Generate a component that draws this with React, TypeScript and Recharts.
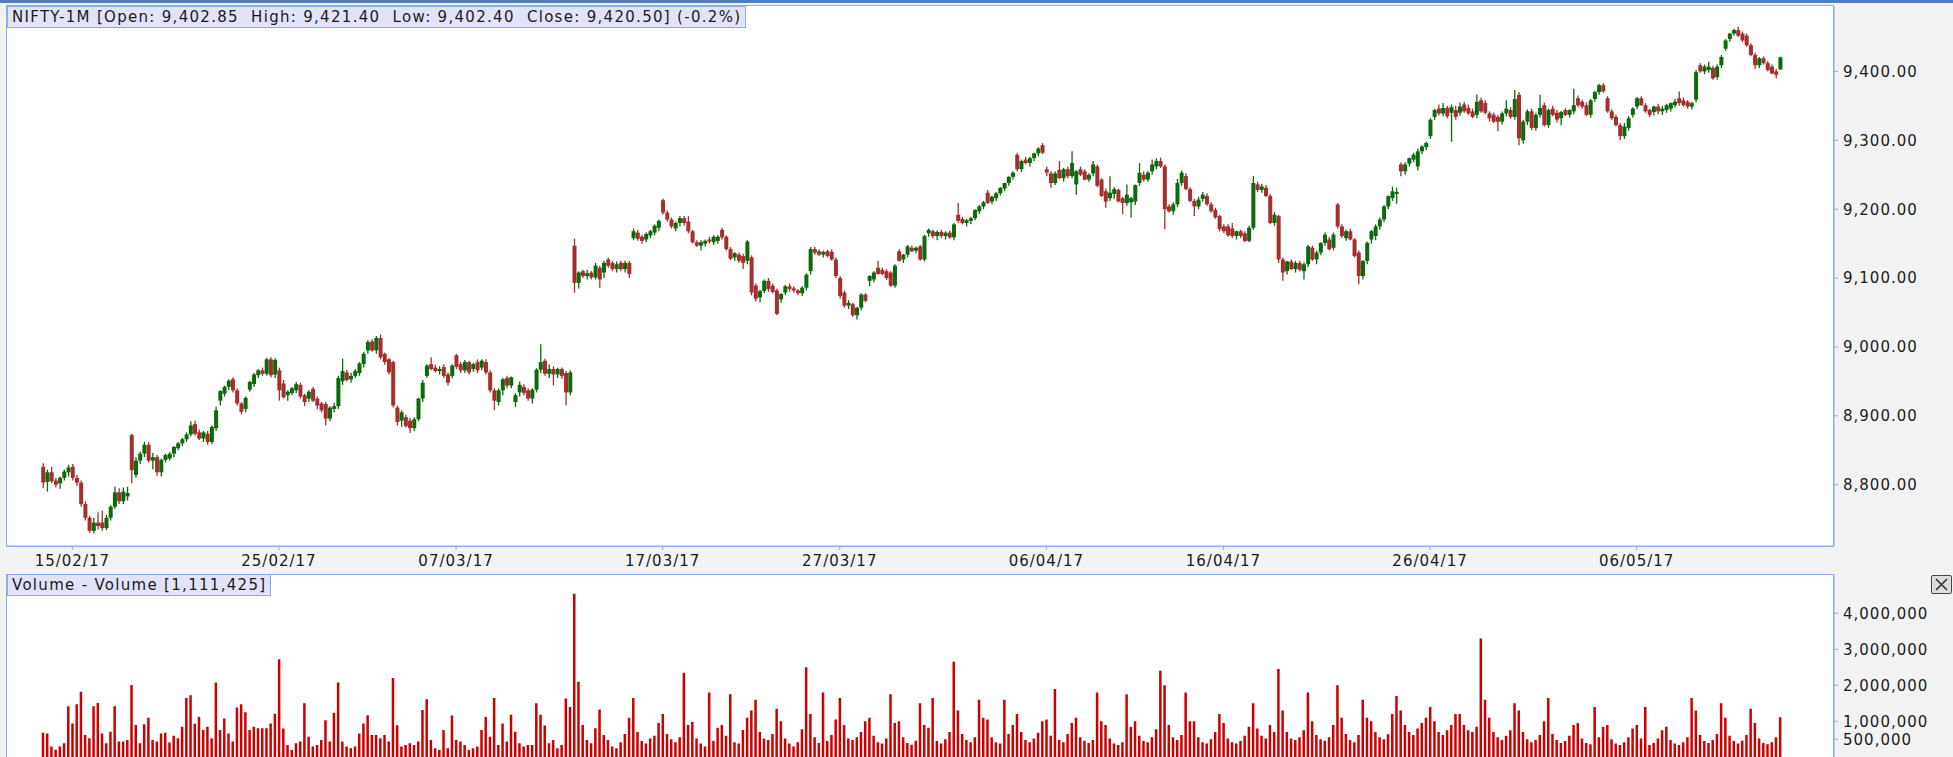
import React from 'react';
import { ComposedChart, Bar, XAxis, YAxis } from 'recharts';

// hourly NIFTY near-month futures, [open, high, low, close], 7 bars per session
const febCandles = [
  [8826, 8831, 8795, 8803], [8804, 8822, 8790, 8818], [8818, 8826, 8802, 8805], [8806, 8810, 8796, 8800], [8802, 8812, 8794, 8810], [8810, 8822, 8806, 8819], [8818, 8829, 8812, 8825],
  [8826, 8830, 8806, 8810], [8810, 8814, 8798, 8803], [8803, 8806, 8768, 8772], [8772, 8776, 8748, 8752], [8752, 8755, 8730, 8733], [8733, 8752, 8729, 8745], [8745, 8760, 8735, 8740],
  [8745, 8762, 8733, 8737], [8737, 8756, 8734, 8752], [8752, 8770, 8748, 8768], [8768, 8797, 8765, 8789], [8789, 8795, 8772, 8776], [8776, 8796, 8772, 8790], [8783, 8797, 8777, 8788],
  [8872, 8874, 8802, 8821], [8814, 8840, 8810, 8835], [8835, 8848, 8830, 8845], [8845, 8862, 8840, 8858], [8858, 8862, 8832, 8835], [8835, 8846, 8822, 8840], [8840, 8843, 8813, 8818],
  [8818, 8838, 8812, 8836], [8836, 8845, 8832, 8843], [8838, 8848, 8835, 8845], [8845, 8856, 8840, 8855], [8853, 8862, 8850, 8860], [8860, 8868, 8856, 8866], [8866, 8876, 8862, 8873],
  [8873, 8892, 8870, 8886], [8888, 8893, 8871, 8874], [8876, 8880, 8865, 8867], [8867, 8878, 8862, 8876], [8874, 8878, 8858, 8862], [8862, 8886, 8859, 8884], [8882, 8913, 8878, 8908],
  [8922, 8937, 8915, 8936], [8932, 8944, 8928, 8942], [8942, 8953, 8938, 8951], [8953, 8956, 8934, 8937], [8937, 8940, 8915, 8918], [8918, 8920, 8902, 8906], [8910, 8928, 8905, 8926],
  [8938, 8951, 8935, 8949], [8946, 8962, 8942, 8960], [8959, 8968, 8955, 8966], [8966, 8970, 8958, 8961], [8961, 8984, 8958, 8982], [8982, 8985, 8956, 8959], [8960, 8984, 8955, 8981],
  [8966, 8970, 8922, 8937], [8947, 8952, 8925, 8927], [8930, 8937, 8922, 8935], [8933, 8942, 8930, 8940], [8937, 8949, 8933, 8946], [8945, 8948, 8925, 8928], [8930, 8932, 8914, 8920],
  [8925, 8937, 8920, 8935], [8939, 8942, 8920, 8922], [8925, 8928, 8910, 8915], [8918, 8920, 8905, 8908], [8917, 8920, 8886, 8896], [8896, 8914, 8892, 8912], [8910, 8919, 8905, 8914],
];

const marCandles = [
  [8914, 8958, 8910, 8955], [8950, 8983, 8945, 8965], [8963, 8967, 8950, 8952], [8953, 8962, 8948, 8958], [8958, 8968, 8955, 8965], [8962, 8978, 8958, 8976], [8975, 8993, 8970, 8990],
  [8995, 9010, 8990, 9007], [9008, 9011, 8993, 8995], [8995, 9016, 8990, 9013], [9013, 9018, 8982, 8985], [8990, 8992, 8974, 8978], [8982, 8984, 8960, 8963], [8978, 8980, 8912, 8915],
  [8912, 8915, 8886, 8891], [8893, 8908, 8884, 8905], [8898, 8902, 8883, 8885], [8893, 8897, 8875, 8882], [8882, 8898, 8878, 8895], [8895, 8926, 8892, 8925], [8925, 8952, 8920, 8948],
  [8958, 8975, 8955, 8973], [8975, 8985, 8966, 8968], [8970, 8974, 8963, 8965], [8965, 8972, 8960, 8968], [8971, 8975, 8955, 8958], [8960, 8963, 8944, 8948], [8958, 8975, 8955, 8973],
  [8988, 8990, 8968, 8971], [8975, 8978, 8962, 8966], [8966, 8981, 8962, 8978], [8978, 8980, 8960, 8963], [8968, 8977, 8964, 8975], [8978, 8982, 8962, 8966], [8970, 8982, 8966, 8980],
  [8978, 8982, 8960, 8963], [8963, 8966, 8934, 8937], [8937, 8940, 8908, 8922], [8920, 8940, 8915, 8937], [8937, 8955, 8930, 8953], [8955, 8958, 8940, 8944], [8944, 8957, 8940, 8956],
  [8920, 8933, 8913, 8930], [8934, 8950, 8928, 8945], [8942, 8946, 8930, 8933], [8937, 8940, 8922, 8925], [8925, 8940, 8918, 8938], [8938, 8969, 8934, 8967], [8967, 9004, 8962, 8978],
  [8980, 8983, 8958, 8961], [8961, 8975, 8955, 8968], [8968, 8972, 8944, 8960], [8960, 8970, 8955, 8968], [8968, 8970, 8954, 8958], [8962, 8965, 8915, 8934], [8934, 8966, 8930, 8963],
  [9147, 9157, 9079, 9093], [9093, 9110, 9085, 9108], [9110, 9112, 9100, 9103], [9103, 9112, 9098, 9107], [9108, 9110, 9098, 9101], [9101, 9122, 9098, 9118], [9115, 9118, 9086, 9098],
  [9108, 9125, 9100, 9122], [9127, 9130, 9115, 9118], [9122, 9125, 9110, 9113], [9113, 9124, 9108, 9120], [9122, 9125, 9110, 9113], [9113, 9125, 9108, 9122], [9122, 9125, 9100, 9106],
  [9158, 9172, 9155, 9168], [9166, 9170, 9154, 9157], [9160, 9163, 9150, 9154], [9156, 9166, 9152, 9164], [9162, 9170, 9158, 9168], [9166, 9178, 9162, 9176], [9173, 9185, 9168, 9183],
  [9213, 9215, 9192, 9195], [9195, 9198, 9182, 9185], [9185, 9188, 9172, 9175], [9172, 9182, 9168, 9180], [9180, 9190, 9175, 9187], [9187, 9190, 9176, 9180], [9182, 9190, 9165, 9168],
  [9168, 9170, 9150, 9152], [9152, 9155, 9145, 9147], [9147, 9155, 9140, 9152], [9150, 9156, 9146, 9154], [9156, 9160, 9150, 9153], [9152, 9162, 9148, 9160], [9154, 9162, 9150, 9160],
  [9170, 9173, 9156, 9159], [9160, 9162, 9140, 9142], [9142, 9145, 9126, 9128], [9130, 9138, 9125, 9136], [9134, 9137, 9122, 9125], [9132, 9135, 9113, 9122], [9125, 9155, 9120, 9153],
  [9130, 9133, 9075, 9079], [9089, 9092, 9066, 9070], [9072, 9083, 9065, 9081], [9081, 9098, 9078, 9096], [9096, 9100, 9080, 9084], [9089, 9092, 9078, 9080], [9082, 9085, 9046, 9048],
  [9069, 9078, 9064, 9077], [9079, 9090, 9075, 9088], [9088, 9092, 9080, 9084], [9085, 9088, 9079, 9082], [9082, 9084, 9075, 9078], [9078, 9088, 9074, 9086], [9086, 9107, 9082, 9105],
  [9110, 9145, 9105, 9142], [9142, 9145, 9134, 9137], [9139, 9142, 9132, 9134], [9134, 9140, 9130, 9138], [9139, 9141, 9130, 9132], [9138, 9142, 9125, 9127], [9127, 9130, 9100, 9103],
  [9100, 9103, 9070, 9074], [9079, 9082, 9057, 9060], [9060, 9068, 9055, 9064], [9062, 9064, 9044, 9046], [9046, 9058, 9040, 9057], [9057, 9078, 9053, 9076], [9076, 9078, 9065, 9067],
  [9096, 9104, 9088, 9103], [9098, 9110, 9094, 9108], [9115, 9125, 9105, 9106], [9112, 9115, 9104, 9106], [9110, 9113, 9097, 9100], [9108, 9110, 9087, 9089], [9089, 9120, 9086, 9118],
  [9139, 9142, 9124, 9125], [9127, 9135, 9122, 9134], [9134, 9148, 9130, 9146], [9144, 9147, 9138, 9139], [9140, 9146, 9136, 9144], [9146, 9148, 9125, 9127], [9127, 9163, 9124, 9161],
  [9165, 9172, 9160, 9170], [9168, 9170, 9158, 9161], [9161, 9169, 9155, 9167], [9167, 9170, 9158, 9161], [9161, 9168, 9156, 9166], [9166, 9169, 9157, 9159], [9159, 9180, 9155, 9178],
  [9192, 9209, 9180, 9183], [9186, 9189, 9178, 9180], [9180, 9186, 9175, 9184], [9183, 9189, 9178, 9187], [9187, 9200, 9184, 9199], [9197, 9206, 9193, 9204], [9204, 9212, 9200, 9210],
];

const aprCandles = [
  [9224, 9228, 9208, 9209], [9211, 9220, 9207, 9218], [9216, 9225, 9212, 9223], [9223, 9232, 9220, 9231], [9230, 9238, 9226, 9238], [9238, 9248, 9234, 9247], [9247, 9255, 9243, 9253],
  [9279, 9282, 9255, 9258], [9258, 9272, 9254, 9270], [9272, 9276, 9265, 9267], [9267, 9276, 9262, 9274], [9274, 9282, 9270, 9281], [9281, 9290, 9277, 9288], [9293, 9296, 9280, 9282],
  [9258, 9262, 9248, 9253], [9252, 9255, 9231, 9238], [9238, 9255, 9235, 9252], [9257, 9270, 9244, 9245], [9245, 9260, 9240, 9258], [9258, 9262, 9245, 9248], [9248, 9284, 9245, 9267],
  [9236, 9257, 9221, 9255], [9258, 9262, 9248, 9250], [9255, 9258, 9242, 9243], [9243, 9252, 9240, 9250], [9252, 9270, 9248, 9265], [9262, 9265, 9232, 9234], [9243, 9245, 9218, 9219],
  [9226, 9230, 9202, 9211], [9216, 9248, 9212, 9224], [9222, 9232, 9215, 9229], [9228, 9230, 9210, 9211], [9216, 9218, 9193, 9209], [9209, 9236, 9205, 9221], [9210, 9218, 9188, 9216],
  [9211, 9236, 9206, 9235], [9238, 9267, 9234, 9253], [9250, 9255, 9240, 9243], [9243, 9255, 9240, 9253], [9255, 9272, 9250, 9265], [9262, 9274, 9258, 9270], [9270, 9275, 9260, 9262],
  [9262, 9265, 9171, 9200], [9204, 9207, 9195, 9197], [9197, 9210, 9192, 9207], [9207, 9244, 9203, 9238], [9238, 9256, 9234, 9253], [9248, 9252, 9228, 9229], [9229, 9232, 9210, 9212],
  [9212, 9215, 9190, 9204], [9204, 9218, 9200, 9214], [9215, 9225, 9211, 9221], [9219, 9223, 9205, 9207], [9207, 9210, 9195, 9197], [9199, 9202, 9186, 9188], [9190, 9192, 9168, 9171],
  [9175, 9178, 9165, 9168], [9175, 9178, 9160, 9162], [9172, 9180, 9158, 9161], [9161, 9169, 9156, 9168], [9168, 9170, 9158, 9161], [9165, 9168, 9152, 9154], [9154, 9176, 9152, 9173],
  [9173, 9248, 9170, 9238], [9236, 9240, 9225, 9228], [9228, 9237, 9224, 9233], [9231, 9235, 9218, 9219], [9219, 9222, 9178, 9180], [9180, 9196, 9176, 9192], [9190, 9192, 9122, 9127],
  [9127, 9130, 9096, 9108], [9110, 9125, 9105, 9124], [9124, 9127, 9112, 9113], [9113, 9125, 9108, 9122], [9122, 9125, 9110, 9112], [9110, 9123, 9098, 9120], [9120, 9148, 9116, 9146],
  [9144, 9147, 9125, 9127], [9127, 9140, 9120, 9137], [9137, 9152, 9133, 9151], [9151, 9166, 9147, 9163], [9156, 9160, 9140, 9142], [9144, 9166, 9140, 9163], [9207, 9209, 9172, 9175],
  [9175, 9178, 9158, 9161], [9158, 9170, 9154, 9168], [9168, 9172, 9155, 9156], [9156, 9158, 9130, 9132], [9137, 9140, 9091, 9103], [9103, 9126, 9098, 9125], [9125, 9153, 9120, 9151],
  [9156, 9170, 9150, 9168], [9161, 9178, 9155, 9175], [9175, 9188, 9170, 9185], [9185, 9206, 9181, 9204], [9204, 9220, 9200, 9219], [9216, 9233, 9212, 9226], [9222, 9231, 9208, 9225],
  [9265, 9268, 9248, 9255], [9255, 9268, 9250, 9265], [9266, 9275, 9262, 9274], [9272, 9282, 9268, 9279], [9262, 9288, 9256, 9284], [9284, 9293, 9280, 9291], [9290, 9298, 9286, 9296],
  [9306, 9332, 9302, 9330], [9334, 9346, 9330, 9344], [9346, 9352, 9336, 9339], [9339, 9354, 9335, 9347], [9347, 9350, 9332, 9335], [9340, 9352, 9298, 9348], [9344, 9350, 9330, 9334],
  [9340, 9355, 9336, 9349], [9352, 9356, 9340, 9342], [9347, 9352, 9337, 9339], [9342, 9346, 9332, 9334], [9337, 9366, 9332, 9356], [9358, 9362, 9340, 9342], [9354, 9358, 9338, 9340],
  [9339, 9342, 9327, 9332], [9337, 9340, 9325, 9327], [9334, 9337, 9313, 9327], [9327, 9342, 9323, 9339], [9339, 9358, 9335, 9346], [9344, 9348, 9331, 9334], [9334, 9373, 9330, 9360],
];

const mayCandles = [
  [9366, 9370, 9293, 9303], [9300, 9330, 9295, 9327], [9327, 9345, 9322, 9342], [9342, 9346, 9315, 9318], [9318, 9340, 9314, 9337], [9337, 9366, 9333, 9347], [9351, 9355, 9320, 9322],
  [9322, 9346, 9318, 9344], [9346, 9350, 9335, 9337], [9340, 9344, 9326, 9330], [9332, 9343, 9322, 9341], [9344, 9347, 9335, 9337], [9337, 9345, 9333, 9344], [9342, 9375, 9338, 9351],
  [9361, 9365, 9348, 9351], [9356, 9359, 9346, 9349], [9351, 9355, 9335, 9337], [9337, 9360, 9333, 9358], [9360, 9372, 9356, 9370], [9370, 9382, 9366, 9380], [9380, 9383, 9369, 9371],
  [9361, 9364, 9340, 9342], [9342, 9345, 9330, 9332], [9334, 9337, 9320, 9322], [9322, 9325, 9300, 9306], [9306, 9325, 9302, 9320], [9318, 9335, 9314, 9332], [9337, 9348, 9333, 9346],
  [9349, 9363, 9345, 9361], [9361, 9364, 9350, 9351], [9351, 9354, 9340, 9342], [9344, 9346, 9334, 9337], [9341, 9350, 9336, 9349], [9349, 9353, 9338, 9342], [9342, 9350, 9337, 9346],
  [9344, 9353, 9340, 9351], [9346, 9355, 9342, 9354], [9351, 9360, 9348, 9356], [9361, 9371, 9350, 9354], [9358, 9362, 9349, 9351], [9356, 9358, 9346, 9349], [9349, 9356, 9345, 9354],
  [9359, 9402, 9355, 9399], [9409, 9412, 9398, 9400], [9400, 9410, 9396, 9407], [9402, 9414, 9398, 9407], [9405, 9408, 9388, 9390], [9392, 9410, 9388, 9407], [9409, 9424, 9405, 9421],
  [9433, 9447, 9430, 9445], [9447, 9456, 9443, 9455], [9455, 9462, 9452, 9460], [9460, 9465, 9450, 9452], [9455, 9458, 9443, 9445], [9452, 9455, 9436, 9438], [9438, 9441, 9422, 9424],
  [9424, 9427, 9404, 9409], [9409, 9421, 9405, 9419], [9419, 9422, 9410, 9412], [9412, 9415, 9400, 9402], [9407, 9410, 9396, 9397], [9400, 9404, 9390, 9395], [9402.85, 9421.4, 9402.4, 9420.5],
];

// volume in thousands of contracts, same bars
const febVolume = [
  680, 660, 300, 210, 300, 390, 1420, 940, 1470, 1820, 620, 530, 1420, 1510,
  660, 390, 710, 1420, 440, 440, 480, 2010, 900, 390, 920, 1100, 480, 440,
  660, 680, 410, 600, 530, 850, 1650, 1720, 930, 1120, 760, 850, 530, 2080,
  760, 1080, 660, 440, 1380, 1470, 1250, 760, 850, 810, 810, 810, 940, 1210,
  2720, 800, 340, 200, 390, 440, 1500, 570, 300, 340, 480, 1030, 440, 1240,
];
const marVolume = [
  2080, 440, 300, 250, 300, 660, 940, 1170, 620, 620, 530, 620, 440, 2200,
  890, 300, 340, 390, 340, 440, 1310, 1610, 480, 250, 200, 760, 250, 1160,
  480, 440, 340, 200, 250, 300, 760, 1120, 570, 1650, 340, 940, 440, 1180,
  710, 390, 300, 340, 340, 1500, 1180, 880, 390, 480, 250, 340, 1630, 1400,
  4540, 2100, 900, 480, 390, 810, 1330, 620, 480, 300, 250, 420, 650, 1100,
  1650, 700, 450, 380, 520, 600, 950, 1200, 650, 500, 420, 560, 2350, 900,
  980, 520, 380, 300, 1800, 450, 820, 900, 600, 1750, 420, 380, 760, 1100,
  1300, 1600, 700, 520, 480, 650, 1350, 1000, 520, 380, 300, 420, 780, 2500,
  1200, 560, 400, 1800, 450, 620, 1050, 1650, 900, 520, 480, 560, 700, 1000,
  1100, 600, 420, 380, 520, 1750, 950, 1000, 560, 400, 350, 460, 1500, 900,
  820, 1650, 450, 380, 500, 700, 2650, 1300, 650, 480, 420, 560, 1600, 1100,
];
const aprVolume = [
  1050, 560, 420, 380, 1600, 650, 900, 1200, 700, 480, 420, 520, 680, 1000,
  1050, 600, 1900, 480, 420, 650, 950, 1100, 560, 460, 400, 480, 1800, 1000,
  900, 520, 380, 340, 420, 1750, 850, 1000, 600, 450, 420, 560, 780, 2400,
  2000, 900, 560, 480, 620, 1800, 1000, 1000, 560, 420, 380, 500, 700, 1200,
  950, 520, 420, 380, 450, 600, 850, 1500, 800, 600, 520, 900, 700, 2450,
  1300, 700, 520, 480, 560, 750, 1800, 1000, 620, 500, 460, 560, 900, 2000,
  1100, 650, 480, 420, 620, 1600, 1100, 1000, 700, 560, 500, 640, 1200, 1700,
  1300, 900, 700, 620, 800, 950, 1100, 1400, 1000, 700, 620, 750, 900, 1200,
  1200, 900, 750, 700, 850, 3300, 1600, 1100, 700, 560, 480, 600, 750, 1500,
];
const mayVolume = [
  1300, 700, 500, 420, 480, 620, 1000, 1650, 650, 480, 400, 450, 600, 900,
  950, 520, 400, 360, 1400, 560, 850, 900, 500, 380, 340, 420, 560, 800,
  900, 520, 1400, 340, 400, 520, 750, 850, 480, 380, 340, 420, 560, 1650,
  1300, 620, 450, 400, 480, 650, 1500, 1100, 600, 450, 380, 460, 620, 1350,
  950, 520, 400, 360, 420, 560, 1111.425,
];

const dateTicks = [7, 56, 98, 147, 189, 238, 280, 329, 378];
const dateLabels = ['15/02/17', '25/02/17', '07/03/17', '17/03/17', '27/03/17', '06/04/17', '16/04/17', '26/04/17', '06/05/17'];
const priceTicks = [8800, 8900, 9000, 9100, 9200, 9300, 9400];
const volumeTicks = [500, 1000, 2000, 3000, 4000];

const UP = '#0b6a0b';
const DOWN = '#a52f2f';
const EDGE = '#88aef0';
const FONT = '"DejaVu Sans", Verdana, sans-serif';

const candles = [...febCandles, ...marCandles, ...aprCandles, ...mayCandles];
const volumes = [...febVolume, ...marVolume, ...aprVolume, ...mayVolume];
const rows = candles.map(([o, h, l, c], i) => ({ i, o, h, l, c, range: [l, h], v: volumes[i] }));

const X_DOMAIN: [number, number] = [-8.5, 424.8];

function Candle(props: any) {
  const { x, y, width, height, payload } = props;
  if (!payload || x == null) return null;
  const { o, h, l, c } = payload;
  const cx = x + width / 2;
  const k = h > l ? height / (h - l) : 0;
  const top = y + (h - Math.max(o, c)) * k;
  const bot = y + (h - Math.min(o, c)) * k;
  const col = c >= o ? UP : DOWN;
  return (
    <g>
      <line x1={cx} x2={cx} y1={y} y2={y + height} stroke={col} strokeWidth={1.3} />
      <rect x={cx - 2} y={top} width={4} height={Math.max(2, bot - top)} fill={col} />
    </g>
  );
}

const tickStyle = { fontSize: 15, fill: '#1a1a1a', fontFamily: FONT, letterSpacing: 1 };
const fmtNum = (v: number, d: number) => v.toLocaleString('en-US', { minimumFractionDigits: d, maximumFractionDigits: d });
const boxStyle: React.CSSProperties = {
  position: 'absolute', left: 7, height: 22, padding: '0 4px', background: '#e3e3f7', border: `1px solid ${EDGE}`,
  boxSizing: 'border-box', fontSize: 15, letterSpacing: 1.3, lineHeight: '20px', color: '#1a1a1a', whiteSpace: 'pre',
};

export default function App() {
  return (
    <div style={{ position: 'absolute', left: 0, top: 0, width: 1953, height: 757, background: '#f3f3f3', overflow: 'hidden', fontFamily: FONT }}>
      <div style={{ position: 'absolute', left: 0, top: 0, width: 1953, height: 3, background: '#4f7fbf' }} />
      <div style={{ position: 'absolute', left: 6, top: 5, width: 1828, height: 542, background: '#fff', border: `1px solid ${EDGE}`, boxSizing: 'border-box' }} />
      <div style={{ position: 'absolute', left: 6, top: 574, width: 1828, height: 200, background: '#fff', border: `1px solid ${EDGE}`, boxSizing: 'border-box' }} />

      <div style={{ position: 'absolute', left: 0, top: 0 }}>
        <ComposedChart width={1953} height={580} data={rows} margin={{ top: 6, right: 0, bottom: 0, left: 7 }}>
          <XAxis
            dataKey="i"
            type="number"
            domain={X_DOMAIN}
            allowDataOverflow
            ticks={dateTicks}
            interval={0}
            tickFormatter={(v: number) => dateLabels[dateTicks.indexOf(v)] ?? ''}
            height={34}
            tickSize={4}
            tickMargin={5}
            stroke={EDGE}
            tick={tickStyle}
          />
          <YAxis
            orientation="right"
            width={119}
            domain={[8711, 9495]}
            allowDataOverflow
            ticks={priceTicks}
            interval={0}
            tickFormatter={(v: number) => fmtNum(v, 2)}
            tickSize={4}
            tickMargin={5}
            stroke={EDGE}
            tick={{ ...tickStyle, textAnchor: 'start' }}
          />
          <Bar dataKey="range" barSize={3} shape={<Candle />} isAnimationActive={false} />
        </ComposedChart>
      </div>

      <div style={{ position: 'absolute', left: 0, top: 574 }}>
        <ComposedChart width={1953} height={190} data={rows} margin={{ top: 0, right: 0, bottom: 6.7, left: 7 }}>
          <XAxis dataKey="i" type="number" domain={X_DOMAIN} allowDataOverflow hide />
          <YAxis
            orientation="right"
            width={119}
            domain={[0, 5090]}
            allowDataOverflow
            ticks={volumeTicks}
            interval={0}
            tickFormatter={(v: number) => fmtNum(v * 1000, 0)}
            tickSize={4}
            tickMargin={5}
            stroke={EDGE}
            tick={{ ...tickStyle, textAnchor: 'start' }}
          />
          <Bar dataKey="v" barSize={2.5} fill="#cc0000" isAnimationActive={false} />
        </ComposedChart>
      </div>

      <div style={{ ...boxStyle, top: 6 }}>
        {'NIFTY-1M [Open: 9,402.85  High: 9,421.40  Low: 9,402.40  Close: 9,420.50] (-0.2%)'}
      </div>
      <div style={{ ...boxStyle, top: 574 }}>
        {'Volume - Volume [1,111,425]'}
      </div>
      <div style={{ position: 'absolute', left: 1931, top: 575, width: 21, height: 19, border: '1px solid #444', borderRadius: 2, background: '#dcdcdc', boxSizing: 'border-box' }}>
        <svg width={19} height={17} style={{ display: 'block' }}>
          <path d="M4 3 L15 14 M15 3 L4 14" stroke="#333" strokeWidth={1.6} />
        </svg>
      </div>
    </div>
  );
}
